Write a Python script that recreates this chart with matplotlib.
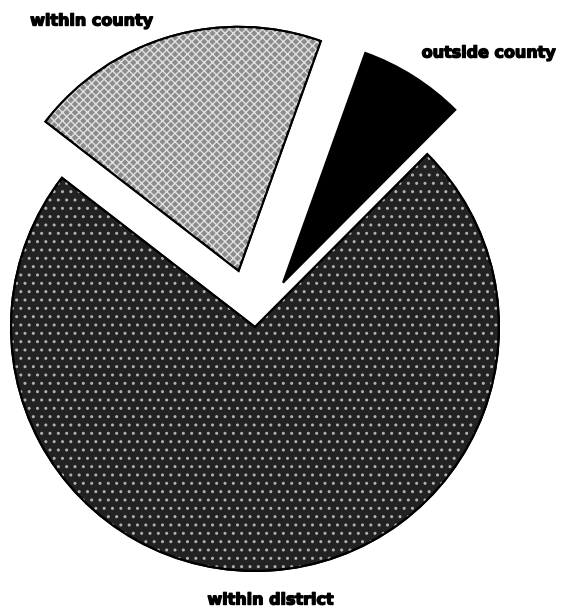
import matplotlib
matplotlib.use("Agg")
import matplotlib.pyplot as plt
import matplotlib.patches as mp
import matplotlib.patheffects as pe

categories = ["within district", "outside county", "within county"]
shares = [73.0, 7.0, 20.0]
explode = [0.0, 0.215, 0.24]
colors = ["#222222", "#000000", "#8c8c8c"]
hatches = ["..", None, "xxxx"]

W, H = 564, 609
fig = plt.figure(figsize=(W / 100, H / 100), dpi=100)
ax = fig.add_axes([0, 0, 1, 1])

cx, cy, r = 255, 327, 244

wedges, _ = ax.pie(shares, explode=explode, colors=colors, startangle=142.3,
                   counterclock=True, radius=1.0,
                   wedgeprops=dict(edgecolor="black", linewidth=1.5))
ax.set_aspect("auto")
ax.set_xlim(-cx / r, (W - cx) / r)
ax.set_ylim(-(H - cy) / r, cy / r)
ax.axis("off")

# stipple texture overlays
for w, h in zip(wedges, hatches):
    if h:
        ov = mp.Wedge(w.center, w.r, w.theta1, w.theta2, facecolor="none",
                      edgecolor="#b0b0b0" if h == ".." else "#e0e0e0",
                      linewidth=0, hatch=h)
        ax.add_patch(ov)
        w.set_zorder(1)
        ov.set_zorder(2)
        border = mp.Wedge(w.center, w.r, w.theta1, w.theta2, facecolor="none",
                          edgecolor="black", linewidth=1.5, zorder=3)
        ax.add_patch(border)

label_pos = {
    "within county": (92, 21),
    "outside county": (489, 53),
    "within district": (271, 600),
}
for c in categories:
    x, y = label_pos[c]
    fig.text(x / W, 1 - y / H, c, ha="center", va="center",
             fontsize=11.5, fontweight="heavy", family="DejaVu Sans",
             path_effects=[pe.withStroke(linewidth=1.0, foreground="black")])

fig.savefig("out.png", dpi=100, facecolor="white")
